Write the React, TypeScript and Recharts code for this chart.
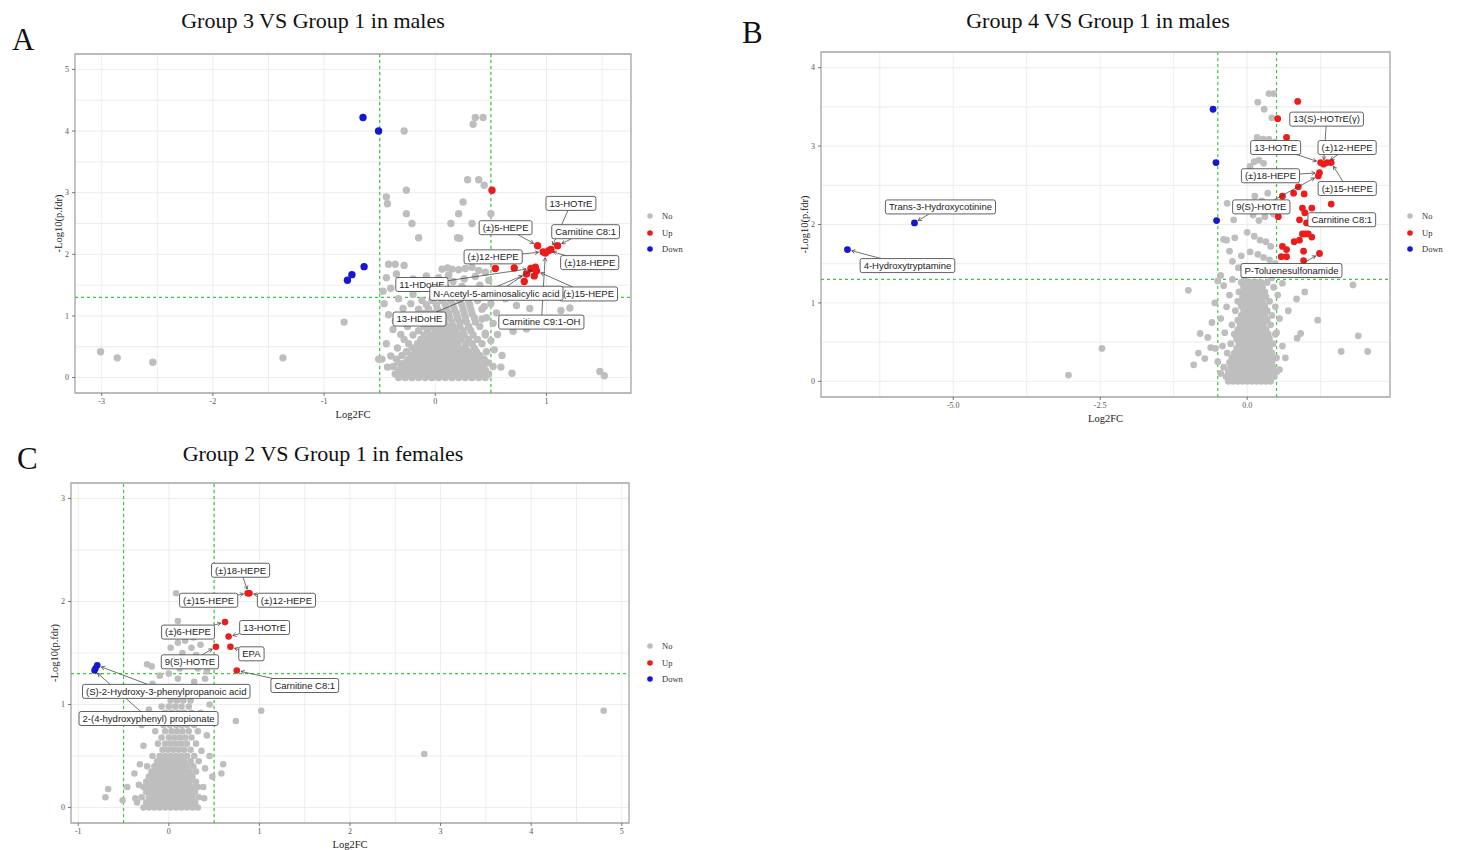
import React from 'react';
import { ScatterChart, Scatter, XAxis, YAxis, CartesianGrid, ReferenceLine, ReferenceArea, Label } from 'recharts';

type Pt = { x: number; y: number; name?: string };
type Row = [number, number[]];

const SERIF = "'Liberation Serif', 'Times New Roman', serif";
const SANS = "'Liberation Sans', Arial, sans-serif";
const GREY = '#bebebe';
const RED = '#ec1c1c';
const BLUE = '#1717cf';
const GUIDE = '#3cc83c';

// ---------- A: Group 3 VS Group 1 in males ----------
const noA_out: [number, number][] = [
  [-3.01, 0.42], [-2.86, 0.32], [-2.54, 0.25], [-1.37, 0.32], [-0.82, 0.9],
  [-0.28, 4.0], [0.36, 4.22], [0.43, 4.22], [0.34, 4.11],
  [0.29, 3.21], [0.39, 3.21], [0.44, 3.12], [-0.26, 3.04], [-0.44, 2.93], [-0.43, 2.82],
  [-0.26, 2.66], [-0.21, 2.5], [-0.15, 2.27], [0.25, 2.85], [0.21, 2.66], [0.5, 2.66],
  [0.14, 2.5], [0.33, 2.5], [0.22, 2.26], [0.2, 2.27],
  [1.48, 0.1], [1.52, 0.03], [0.69, 0.07], [0.59, 0.17], [0.6, 0.36], [1.21, 1.13], [1.13, 1.09],
  [0.82, 0.79], [0.63, 1.28], [0.73, 1.17], [0.85, 1.12], [0.62, 0.9], [0.7, 0.75], [0.78, 0.95],
  [-0.51, 0.3], [-0.48, 0.3], [-0.43, 0.17],
  [-0.42, 1.02], [-0.38, 0.78], [-0.44, 0.55], [-0.4, 0.35], [-0.36, 0.92], [-0.31, 0.7], [-0.29, 1.12],
  [-0.33, 1.28], [-0.27, 0.88], [-0.22, 1.2], [-0.2, 1.35], [-0.4, 1.45], [-0.3, 1.52], [-0.15, 1.44],
  [-0.05, 1.5], [0.02, 1.38], [0.1, 1.46], [0.16, 1.56], [0.24, 1.48], [0.32, 1.42], [0.4, 1.5],
  [0.46, 1.36], [0.5, 1.2], [0.55, 1.05], [0.52, 0.88], [0.56, 0.7], [0.5, 0.6], [0.53, 0.45],
  [0.45, 0.72], [0.42, 0.95], [0.44, 1.15], [0.38, 1.3], [-0.44, 1.62], [-0.35, 1.68], [-0.2, 1.6],
  [-0.08, 1.65], [0.03, 1.62], [0.12, 1.66], [0.26, 1.6], [0.36, 1.64], [0.48, 1.58], [0.06, 1.76],
  [0.11, 1.78], [0.15, 1.76], [0.21, 1.75], [0.27, 1.77], [0.33, 1.79], [0.39, 1.74], [0.45, 1.71],
  [-0.42, 1.84], [-0.36, 1.84], [-0.28, 1.82], [-0.47, 1.4], [-0.46, 1.2],
];
const noA_cloud: Row[] = [
  [0.0, [-0.33, -0.27, -0.21, -0.15, -0.09, -0.03, 0.03, 0.09, 0.15, 0.21, 0.27, 0.33, 0.39, 0.45]],
  [0.06, [-0.36, -0.3, -0.24, -0.18, -0.12, -0.06, 0.0, 0.06, 0.12, 0.18, 0.24, 0.3, 0.36, 0.42, 0.48]],
  [0.12, [-0.33, -0.27, -0.21, -0.15, -0.09, -0.03, 0.03, 0.09, 0.15, 0.21, 0.27, 0.33, 0.39, 0.45]],
  [0.18, [-0.38, -0.3, -0.24, -0.18, -0.12, -0.06, 0.0, 0.06, 0.12, 0.18, 0.24, 0.3, 0.36, 0.43, 0.52]],
  [0.24, [-0.33, -0.27, -0.21, -0.15, -0.09, -0.03, 0.03, 0.09, 0.15, 0.21, 0.27, 0.33, 0.4, 0.47]],
  [0.3, [-0.35, -0.24, -0.18, -0.12, -0.06, 0.0, 0.06, 0.12, 0.18, 0.24, 0.3, 0.36, 0.44]],
  [0.36, [-0.3, -0.21, -0.15, -0.09, -0.03, 0.03, 0.09, 0.15, 0.21, 0.27, 0.33, 0.4]],
  [0.42, [-0.26, -0.18, -0.12, -0.06, 0.0, 0.06, 0.12, 0.18, 0.24, 0.3, 0.37, 0.46]],
  [0.48, [-0.34, -0.21, -0.15, -0.09, -0.03, 0.03, 0.09, 0.15, 0.21, 0.27, 0.35]],
  [0.55, [-0.24, -0.16, -0.1, -0.04, 0.02, 0.08, 0.14, 0.2, 0.27, 0.33, 0.42]],
  [0.62, [-0.28, -0.13, -0.07, -0.01, 0.05, 0.11, 0.17, 0.23, 0.3, 0.38]],
  [0.69, [-0.2, -0.1, -0.04, 0.02, 0.08, 0.14, 0.2, 0.26, 0.34, 0.45]],
  [0.76, [-0.15, -0.07, 0.0, 0.06, 0.12, 0.18, 0.25, 0.32]],
  [0.83, [-0.25, -0.1, -0.03, 0.04, 0.1, 0.16, 0.22, 0.3, 0.4]],
  [0.9, [-0.12, -0.05, 0.02, 0.08, 0.15, 0.22, 0.28, 0.36]],
  [0.97, [-0.2, -0.08, 0.0, 0.06, 0.13, 0.2, 0.27, 0.35, 0.46]],
  [1.04, [-0.1, -0.02, 0.05, 0.12, 0.19, 0.26, 0.33]],
  [1.11, [-0.15, -0.06, 0.02, 0.1, 0.17, 0.25, 0.32, 0.42]],
  [1.18, [-0.08, 0.01, 0.09, 0.16, 0.24, 0.31]],
  [1.25, [-0.12, -0.03, 0.06, 0.14, 0.22, 0.3, 0.38]],
];
const upA: Pt[] = [
  { x: 0.51, y: 3.04 },
  { x: 0.92, y: 2.14, name: '(±)5-HEPE' },
  { x: 0.97, y: 2.04, name: '(±)12-HEPE' },
  { x: 0.99, y: 2.02, name: 'Carnitine C9:1-OH' },
  { x: 1.02, y: 2.06, name: '(±)18-HEPE' },
  { x: 1.04, y: 2.08, name: '13-HOTrE' },
  { x: 1.1, y: 2.14, name: 'Carnitine C8:1' },
  { x: 0.54, y: 1.77 }, { x: 0.71, y: 1.78 },
  { x: 0.86, y: 1.77, name: '11-HDoHE' },
  { x: 0.91, y: 1.73, name: '(±)15-HEPE' },
  { x: 0.9, y: 1.79, name: 'N-Acetyl-5-aminosalicylic acid' },
  { x: 0.82, y: 1.68, name: '13-HDoHE' },
  { x: 0.89, y: 1.65 }, { x: 0.8, y: 1.56 },
];
const downA: Pt[] = [
  { x: -0.65, y: 4.22 }, { x: -0.51, y: 4.0 }, { x: -0.64, y: 1.8 }, { x: -0.75, y: 1.67 }, { x: -0.79, y: 1.58 },
];

// ---------- B: Group 4 VS Group 1 in males ----------
const noB_out: [number, number][] = [
  [-3.04, 0.08], [-2.47, 0.42], [-1.0, 1.16], [1.8, 1.23], [1.6, 0.38], [1.89, 0.58], [2.05, 0.38],
  [1.2, 0.78], [0.98, 1.14], [0.84, 1.05], [0.91, 0.61], [0.85, 0.55], [0.7, 0.9], [0.6, 1.25],
  [-0.8, 0.61], [-0.91, 0.21], [-0.72, 0.29], [-0.54, 0.42], [-0.83, 0.36], [-0.62, 0.43],
  [-0.67, 0.56], [-0.6, 0.75], [-0.55, 1.0], [-0.5, 1.28],
  [0.18, 3.56], [0.29, 3.47], [0.37, 3.67], [0.45, 3.67], [0.42, 3.36], [0.17, 3.11], [0.27, 3.09],
  [0.37, 3.09], [0.47, 3.05], [0.12, 2.8], [0.2, 2.82], [0.28, 2.78], [0.05, 2.74], [0.32, 2.95],
  [-0.34, 2.27], [-0.16, 2.27], [0.06, 2.23], [0.13, 2.36], [0.35, 2.4], [0.25, 2.3], [0.42, 2.25],
  [-0.23, 2.06], [0.1, 2.12], [0.2, 2.05], [0.3, 2.1], [0.45, 2.13],
  [-0.4, 1.81], [-0.21, 1.83], [-0.35, 1.8], [0.0, 1.9], [0.12, 1.85], [0.22, 1.8], [0.32, 1.78],
  [0.4, 1.72], [-0.25, 1.53], [-0.1, 1.6], [0.05, 1.65], [0.18, 1.62], [0.28, 1.58], [0.38, 1.55],
  [0.48, 1.5], [-0.3, 1.66], [-0.15, 1.45], [0.02, 1.42], [0.15, 1.4], [0.26, 1.45], [0.36, 1.38],
  [-0.45, 1.35], [-0.05, 1.33],
  [-0.45, 0.1], [-0.5, 0.25], [-0.42, 0.45], [-0.38, 0.62], [-0.45, 0.8], [-0.35, 0.95], [-0.3, 1.1],
  [-0.4, 1.22], [-0.25, 1.3], [0.48, 0.3], [0.55, 0.15], [0.5, 0.62], [0.55, 0.8], [0.48, 0.95],
  [0.52, 1.1], [0.45, 1.2], [0.6, 0.45], [0.65, 0.3], [0.42, 1.32],
];
const noB_cloud: Row[] = [
  [0.0, [-0.32, -0.24, -0.16, -0.08, 0.0, 0.08, 0.16, 0.24, 0.32, 0.4]],
  [0.06, [-0.36, -0.28, -0.2, -0.12, -0.04, 0.04, 0.12, 0.2, 0.28, 0.36, 0.46]],
  [0.12, [-0.32, -0.24, -0.16, -0.08, 0.0, 0.08, 0.16, 0.24, 0.32, 0.4, 0.5]],
  [0.18, [-0.4, -0.28, -0.2, -0.12, -0.04, 0.04, 0.12, 0.2, 0.28, 0.36, 0.44]],
  [0.24, [-0.3, -0.22, -0.14, -0.06, 0.02, 0.1, 0.18, 0.26, 0.34, 0.42]],
  [0.3, [-0.26, -0.18, -0.1, -0.02, 0.06, 0.14, 0.22, 0.3, 0.38, 0.5]],
  [0.36, [-0.34, -0.22, -0.14, -0.06, 0.02, 0.1, 0.18, 0.26, 0.34, 0.42]],
  [0.42, [-0.18, -0.1, -0.02, 0.06, 0.14, 0.22, 0.3, 0.38]],
  [0.48, [-0.28, -0.14, -0.06, 0.02, 0.1, 0.18, 0.26, 0.34, 0.44]],
  [0.54, [-0.18, -0.1, -0.02, 0.06, 0.14, 0.22, 0.3, 0.38]],
  [0.6, [-0.22, -0.12, -0.04, 0.04, 0.12, 0.2, 0.28, 0.36, 0.48]],
  [0.66, [-0.16, -0.08, 0.0, 0.08, 0.16, 0.24, 0.32]],
  [0.72, [-0.26, -0.12, -0.04, 0.04, 0.12, 0.2, 0.28, 0.4]],
  [0.78, [-0.16, -0.08, 0.0, 0.08, 0.16, 0.24, 0.34]],
  [0.84, [-0.1, -0.02, 0.06, 0.14, 0.22, 0.3, 0.42]],
  [0.9, [-0.2, -0.06, 0.02, 0.1, 0.18, 0.26, 0.34]],
  [0.96, [-0.1, -0.02, 0.06, 0.14, 0.22, 0.3]],
  [1.02, [-0.16, -0.06, 0.02, 0.1, 0.18, 0.26, 0.38]],
  [1.08, [-0.08, 0.0, 0.08, 0.16, 0.24, 0.32]],
  [1.14, [-0.14, -0.04, 0.04, 0.12, 0.2, 0.3]],
  [1.2, [-0.06, 0.02, 0.1, 0.18, 0.26]],
  [1.26, [-0.1, 0.0, 0.08, 0.16, 0.24, 0.34]],
];
const upB: Pt[] = [
  { x: 0.86, y: 3.57 }, { x: 0.52, y: 3.35 }, { x: 0.67, y: 3.11 },
  { x: 1.25, y: 2.79, name: '13-HOTrE' },
  { x: 1.3, y: 2.77, name: '13(S)-HOTrE(γ)' },
  { x: 1.36, y: 2.79, name: '(±)12-HEPE' },
  { x: 1.43, y: 2.79, name: '(±)15-HEPE' },
  { x: 1.23, y: 2.66, name: '(±)18-HEPE' },
  { x: 1.21, y: 2.62, name: '9(S)-HOTrE' },
  { x: 0.87, y: 2.48 }, { x: 0.6, y: 2.36 }, { x: 0.79, y: 2.4 }, { x: 0.97, y: 2.39 }, { x: 1.43, y: 2.26 },
  { x: 0.94, y: 2.21 }, { x: 1.1, y: 2.21 },
  { x: 0.98, y: 2.15, name: 'Carnitine C8:1' },
  { x: 0.53, y: 2.1 }, { x: 0.89, y: 2.06 }, { x: 1.01, y: 2.02 },
  { x: 0.94, y: 1.88 }, { x: 0.99, y: 1.88 }, { x: 1.04, y: 1.88 }, { x: 1.1, y: 1.84 }, { x: 0.8, y: 1.78 },
  { x: 0.89, y: 1.8 }, { x: 0.6, y: 1.72 }, { x: 0.67, y: 1.68 }, { x: 0.58, y: 1.59 }, { x: 0.67, y: 1.59 },
  { x: 0.96, y: 1.66 }, { x: 0.96, y: 1.54 },
  { x: 1.23, y: 1.63, name: 'P-Toluenesulfonamide' },
];
const downB: Pt[] = [
  { x: -6.8, y: 1.68, name: '4-Hydroxytryptamine' },
  { x: -5.66, y: 2.02, name: 'Trans-3-Hydroxycotinine' },
  { x: -0.58, y: 3.47 }, { x: -0.53, y: 2.79 }, { x: -0.52, y: 2.05 },
];

// ---------- C: Group 2 VS Group 1 in females ----------
const noC_out: [number, number][] = [
  [4.8, 0.94], [2.82, 0.52], [1.02, 0.94], [0.74, 0.84], [0.6, 0.42], [0.58, 0.33], [0.39, 0.09],
  [-0.67, 0.18], [-0.7, 0.1], [-0.51, 0.07], [-0.46, 0.2], [-0.38, 0.33], [-0.37, 0.09],
  [-0.24, 1.39], [-0.19, 1.37], [0.08, 2.08], [0.1, 1.81],
  [0.02, 1.55], [0.1, 1.6], [0.18, 1.62], [0.25, 1.55], [0.3, 1.48], [0.38, 1.42], [0.05, 1.45],
  [0.15, 1.5], [0.22, 1.4], [0.32, 1.35], [0.42, 1.32], [-0.05, 1.38], [0.12, 1.35], [0.27, 1.65],
  [0.35, 1.58], [-0.02, 1.16], [0.03, 1.17],
  [-0.35, 0.05], [-0.33, 0.22], [-0.32, 0.42], [-0.28, 0.6], [-0.3, 0.8], [-0.22, 0.95], [-0.25, 1.1],
  [-0.18, 1.2], [0.38, 0.2], [0.4, 0.38], [0.36, 0.55], [0.42, 0.7], [0.38, 0.85], [0.45, 1.0],
  [0.33, 1.12], [0.4, 1.25], [0.45, 0.5], [0.48, 0.3], [0.28, 1.22], [-0.1, 1.28], [0.0, 1.3], [0.1, 1.25],
];
const noC_cloud: Row[] = [
  [0.0, [-0.28, -0.22, -0.16, -0.1, -0.04, 0.02, 0.08, 0.14, 0.2, 0.26, 0.32]],
  [0.05, [-0.25, -0.19, -0.13, -0.07, -0.01, 0.05, 0.11, 0.17, 0.23, 0.29]],
  [0.1, [-0.3, -0.22, -0.16, -0.1, -0.04, 0.02, 0.08, 0.14, 0.2, 0.26, 0.33]],
  [0.15, [-0.25, -0.19, -0.13, -0.07, -0.01, 0.05, 0.11, 0.17, 0.23, 0.29]],
  [0.2, [-0.28, -0.22, -0.16, -0.1, -0.04, 0.02, 0.08, 0.14, 0.2, 0.26, 0.32]],
  [0.25, [-0.25, -0.19, -0.13, -0.07, -0.01, 0.05, 0.11, 0.17, 0.23, 0.3]],
  [0.3, [-0.22, -0.16, -0.1, -0.04, 0.02, 0.08, 0.14, 0.2, 0.26]],
  [0.35, [-0.19, -0.13, -0.07, -0.01, 0.05, 0.11, 0.17, 0.23, 0.3]],
  [0.4, [-0.24, -0.16, -0.1, -0.04, 0.02, 0.08, 0.14, 0.2, 0.27]],
  [0.45, [-0.13, -0.07, -0.01, 0.05, 0.11, 0.17, 0.24, 0.33]],
  [0.5, [-0.18, -0.1, -0.04, 0.02, 0.08, 0.14, 0.2, 0.28]],
  [0.56, [-0.07, -0.01, 0.05, 0.11, 0.17, 0.24]],
  [0.62, [-0.12, -0.04, 0.02, 0.08, 0.14, 0.2, 0.3]],
  [0.68, [-0.08, 0.0, 0.06, 0.12, 0.18, 0.25]],
  [0.74, [-0.15, -0.04, 0.03, 0.09, 0.15, 0.22, 0.32]],
  [0.8, [-0.06, 0.01, 0.08, 0.14, 0.2, 0.28]],
  [0.86, [-0.1, -0.02, 0.05, 0.11, 0.18, 0.26]],
  [0.92, [-0.04, 0.03, 0.1, 0.17, 0.25, 0.35]],
  [0.98, [-0.08, 0.0, 0.07, 0.14, 0.22]],
  [1.04, [0.02, 0.09, 0.16, 0.24]],
  [1.1, [-0.05, 0.04, 0.12, 0.2, 0.3]],
  [1.16, [0.06, 0.15, 0.25]],
];
const upC: Pt[] = [
  { x: 0.62, y: 1.8, name: '(±)6-HEPE' },
  { x: 0.66, y: 1.66, name: '13-HOTrE' },
  { x: 0.68, y: 1.56, name: 'EPA' },
  { x: 0.52, y: 1.56, name: '9(S)-HOTrE' },
  { x: 0.75, y: 1.33, name: 'Carnitine C8:1' },
  { x: 0.87, y: 2.08, name: '(±)15-HEPE' },
  { x: 0.89, y: 2.08, name: '(±)12-HEPE' },
  { x: 0.88, y: 2.08, name: '(±)18-HEPE' },
];
const downC: Pt[] = [
  { x: -0.81, y: 1.35 },
  { x: -0.79, y: 1.38, name: '(S)-2-Hydroxy-3-phenylpropanoic acid' },
  { x: -0.82, y: 1.33, name: '2-(4-hydroxyphenyl) propionate' },
];

// label box offsets from their point, in pixels (repel layout)
const labelPosA: Record<string, [number, number]> = {
  '(±)5-HEPE': [-32, -18], '(±)12-HEPE': [-50, 5], 'Carnitine C9:1-OH': [-4, 69], '(±)18-HEPE': [41, 12],
  '13-HOTrE': [20, -46], 'Carnitine C8:1': [28, -14], '11-HDoHE': [-109, 16],
  'N-Acetyl-5-aminosalicylic acid': [-39, 26], '(±)15-HEPE': [52, 23], '13-HDoHE': [-107, 45],
};
const labelPosB: Record<string, [number, number]> = {
  '13-HOTrE': [-45, -15], '13(S)-HOTrE(γ)': [3, -45], '(±)12-HEPE': [20, -15], '(±)15-HEPE': [16, 26],
  '(±)18-HEPE': [-49, 3], '9(S)-HOTrE': [-57, 31], 'Carnitine C8:1': [37, 7], 'P-Toluenesulfonamide': [-28, 17],
  'Trans-3-Hydroxycotinine': [26, -16], '4-Hydroxytryptamine': [60, 16],
};
const labelPosC: Record<string, [number, number]> = {
  '(±)6-HEPE': [-37, 10], '13-HOTrE': [36, -9], 'EPA': [21, 7], '9(S)-HOTrE': [-26, 15],
  'Carnitine C8:1': [68, 15], '(±)15-HEPE': [-39, 7], '(±)12-HEPE': [37, 7], '(±)18-HEPE': [-8, -23],
  '(S)-2-Hydroxy-3-phenylpropanoic acid': [69, 26], '2-(4-hydroxyphenyl) propionate': [54, 48],
};

const toPts = (out: [number, number][], rows: Row[]): Pt[] =>
  rows.flatMap(([y, xs]) => xs.map((x) => ({ x, y }))).concat(out.map(([x, y]) => ({ x, y })));

let ctx: CanvasRenderingContext2D | null = null;
const textW = (s: string) => {
  if (!ctx) ctx = document.createElement('canvas').getContext('2d');
  if (!ctx) return s.length * 5;
  ctx.font = `9.5px ${SANS}`;
  return ctx.measureText(s).width;
};

const dot = (fill: string, r: number) => (p: any) =>
  p.cx == null ? <g /> : <circle cx={p.cx} cy={p.cy} r={r} fill={fill} />;

const labelShape = (pos: Record<string, [number, number]>, mode: 'seg' | 'box', r: number) => (p: any) => {
  const { cx, cy, payload } = p;
  const name = payload?.name;
  const off = name ? pos[name] : undefined;
  if (!off || cx == null) return <g />;
  const bx = cx + off[0];
  const by = cy + off[1];
  const w = textW(name) + 7;
  const h = 14;
  if (mode === 'box') {
    return (
      <g>
        <rect x={bx - w / 2} y={by - h / 2} width={w} height={h} rx={2} fill="#fff" stroke="#3a3a3a" strokeWidth={0.8} />
        <text x={bx} y={by + 3.3} textAnchor="middle" fontSize={9.5} fontFamily={SANS} fill="#222">{name}</text>
      </g>
    );
  }
  const dx = off[0];
  const dy = off[1];
  const s = Math.min(dx ? w / 2 / Math.abs(dx) : Infinity, dy ? h / 2 / Math.abs(dy) : Infinity);
  if (s >= 1) return <g />;
  const ex = bx - s * dx;
  const ey = by - s * dy;
  const len = Math.hypot(ex - cx, ey - cy);
  if (len < r + 4) return <g />;
  const ux = (ex - cx) / len;
  const uy = (ey - cy) / len;
  const tx = cx + ux * (r + 1);
  const ty = cy + uy * (r + 1);
  const a = 4;
  const t = Math.PI / 6;
  const ax1 = ux * Math.cos(t) - uy * Math.sin(t);
  const ay1 = ux * Math.sin(t) + uy * Math.cos(t);
  const ax2 = ux * Math.cos(-t) - uy * Math.sin(-t);
  const ay2 = ux * Math.sin(-t) + uy * Math.cos(-t);
  return (
    <g stroke="#333" strokeWidth={0.7} fill="none">
      <line x1={ex} y1={ey} x2={tx} y2={ty} />
      <polyline points={`${tx + ax1 * a},${ty + ay1 * a} ${tx},${ty} ${tx + ax2 * a},${ty + ay2 * a}`} />
    </g>
  );
};

type PanelProps = {
  box: { left: number; top: number; width: number; height: number };
  plot: { x0: number; x1: number; y0: number; y1: number };
  xDomain: [number, number];
  yDomain: [number, number];
  xGrid: number[];
  xMajor: number[];
  yGrid: number[];
  yMajor: number[];
  xFmt: (v: number) => string;
  no: Pt[];
  up: Pt[];
  down: Pt[];
  labelPos: Record<string, [number, number]>;
  r: number;
};

const Volcano = (props: PanelProps) => {
  const { box, plot, xDomain, yDomain, xGrid, xMajor, yGrid, yMajor, xFmt, no, up, down, labelPos, r } = props;
  const labelled = up.concat(down).filter((d) => d.name);
  const xh = 27;
  const margin = {
    top: plot.y0 - box.top,
    right: box.left + box.width - plot.x1,
    bottom: box.top + box.height - plot.y1 - xh,
    left: 0,
  };
  const xTick = (p: any) => {
    const v = p.payload?.value;
    if (!xMajor.includes(v)) return <g />;
    return (
      <g>
        <line x1={p.x} x2={p.x} y1={p.y} y2={p.y + 3} stroke="#555" strokeWidth={0.8} />
        <text x={p.x} y={p.y + 11} textAnchor="middle" fontSize={8} fontFamily={SERIF} fill="#555">{xFmt(v)}</text>
      </g>
    );
  };
  const yTick = (p: any) => {
    const v = p.payload?.value;
    if (!yMajor.includes(v)) return <g />;
    return (
      <g>
        <line x1={p.x - 3} x2={p.x} y1={p.y} y2={p.y} stroke="#555" strokeWidth={0.8} />
        <text x={p.x - 6} y={p.y + 2.8} textAnchor="end" fontSize={8} fontFamily={SERIF} fill="#555">{v}</text>
      </g>
    );
  };
  const xTitle = (p: any) => {
    const vb = p.viewBox;
    return (
      <text x={vb.x + vb.width / 2} y={vb.y + 25} textAnchor="middle" fontSize={10.5} fontFamily={SERIF} fill="#222">Log2FC</text>
    );
  };
  const yTitle = (p: any) => {
    const vb = p.viewBox;
    const cx = vb.x + vb.width - 17;
    const cy = vb.y + vb.height / 2;
    return (
      <text x={cx} y={cy + 3.5} transform={`rotate(-90 ${cx} ${cy})`} textAnchor="middle" fontSize={10.5} fontFamily={SERIF} fill="#222">
        -Log10(p.fdr)
      </text>
    );
  };
  return (
    <div style={{ position: 'absolute', left: box.left, top: box.top }}>
      <ScatterChart width={box.width} height={box.height} margin={margin}>
        <CartesianGrid stroke="#ebebeb" strokeWidth={0.9} />
        <XAxis type="number" dataKey="x" domain={xDomain} ticks={xGrid} interval={0} axisLine={false}
          tickLine={false} tickSize={0} tickMargin={0} height={xh} tick={xTick}>
          <Label content={xTitle} />
        </XAxis>
        <YAxis type="number" dataKey="y" domain={yDomain} ticks={yGrid} interval={0} axisLine={false}
          tickLine={false} tickSize={0} tickMargin={0} width={plot.x0 - box.left} tick={yTick}>
          <Label content={yTitle} />
        </YAxis>
        <Scatter data={no} shape={dot(GREY, r)} isAnimationActive={false} />
        <Scatter data={up} shape={dot(RED, r)} isAnimationActive={false} />
        <Scatter data={down} shape={dot(BLUE, r)} isAnimationActive={false} />
        <ReferenceLine x={-0.5} stroke={GUIDE} strokeDasharray="3 3" strokeWidth={1.2} />
        <ReferenceLine x={0.5} stroke={GUIDE} strokeDasharray="3 3" strokeWidth={1.2} />
        <ReferenceLine y={1.3} stroke={GUIDE} strokeDasharray="3 3" strokeWidth={1.2} />
        <Scatter data={labelled} shape={labelShape(labelPos, 'seg', r)} isAnimationActive={false} />
        <Scatter data={labelled} shape={labelShape(labelPos, 'box', r)} isAnimationActive={false} />
        <ReferenceArea x1={xDomain[0]} x2={xDomain[1]} y1={yDomain[0]} y2={yDomain[1]} fill="none"
          fillOpacity={0} stroke="#a8a8a8" strokeWidth={1.3} ifOverflow="visible" />
      </ScatterChart>
    </div>
  );
};

const LegendKey = ({ x, y }: { x: number; y: number }) => (
  <g fontFamily={SERIF} fontSize={8.5} fill="#333">
    <circle cx={x} cy={y} r={2.8} fill={GREY} />
    <text x={x + 12} y={y + 3}>No</text>
    <circle cx={x} cy={y + 17} r={2.8} fill={RED} />
    <text x={x + 12} y={y + 20}>Up</text>
    <circle cx={x} cy={y + 33} r={2.8} fill={BLUE} />
    <text x={x + 12} y={y + 36}>Down</text>
  </g>
);

const halves = (a: number, b: number) => {
  const out: number[] = [];
  for (let v = a; v <= b + 1e-9; v += 0.5) out.push(v);
  return out;
};

export default function App() {
  return (
    <div style={{ position: 'absolute', left: 0, top: 0, width: 1459, height: 850, background: '#fff', overflow: 'hidden' }}>
      <svg width={1459} height={850} style={{ position: 'absolute', left: 0, top: 0 }}>
        <g fontFamily={SERIF} fill="#111">
          <text x={12} y={50} fontSize={31}>A</text>
          <text x={742} y={43} fontSize={31}>B</text>
          <text x={17} y={469} fontSize={31}>C</text>
          <text x={313} y={28} fontSize={22} textAnchor="middle">Group 3 VS Group 1 in males</text>
          <text x={1098} y={28} fontSize={22} textAnchor="middle">Group 4 VS Group 1 in males</text>
          <text x={323} y={461} fontSize={22} textAnchor="middle">Group 2 VS Group 1 in females</text>
        </g>
        <LegendKey x={650} y={216} />
        <LegendKey x={1410} y={216} />
        <LegendKey x={650} y={646} />
      </svg>
      <Volcano
        box={{ left: 0, top: 40, width: 645, height: 395 }}
        plot={{ x0: 75, x1: 631, y0: 54, y1: 393 }}
        xDomain={[-3.24, 1.76]} yDomain={[-0.25, 5.25]}
        xGrid={halves(-3, 1.5)} xMajor={[-3, -2, -1, 0, 1]}
        yGrid={halves(0, 5)} yMajor={[0, 1, 2, 3, 4, 5]}
        xFmt={(v) => String(v)}
        no={toPts(noA_out, noA_cloud)} up={upA} down={downA} labelPos={labelPosA} r={3.7}
      />
      <Volcano
        box={{ left: 745, top: 40, width: 655, height: 400 }}
        plot={{ x0: 821, x1: 1390, y0: 52, y1: 397 }}
        xDomain={[-7.25, 2.43]} yDomain={[-0.2, 4.2]}
        xGrid={[-6.25, -5, -3.75, -2.5, -1.25, 0, 1.25]} xMajor={[-5, -2.5, 0]}
        yGrid={halves(0, 4)} yMajor={[0, 1, 2, 3, 4]}
        xFmt={(v) => v.toFixed(1)}
        no={toPts(noB_out, noB_cloud)} up={upB} down={downB} labelPos={labelPosB} r={3.4}
      />
      <Volcano
        box={{ left: 0, top: 470, width: 640, height: 380 }}
        plot={{ x0: 71, x1: 629, y0: 483, y1: 823 }}
        xDomain={[-1.08, 5.08]} yDomain={[-0.15, 3.15]}
        xGrid={halves(-1, 5)} xMajor={[-1, 0, 1, 2, 3, 4, 5]}
        yGrid={halves(0, 3)} yMajor={[0, 1, 2, 3]}
        xFmt={(v) => String(v)}
        no={toPts(noC_out, noC_cloud)} up={upC} down={downC} labelPos={labelPosC} r={3.3}
      />
    </div>
  );
}
